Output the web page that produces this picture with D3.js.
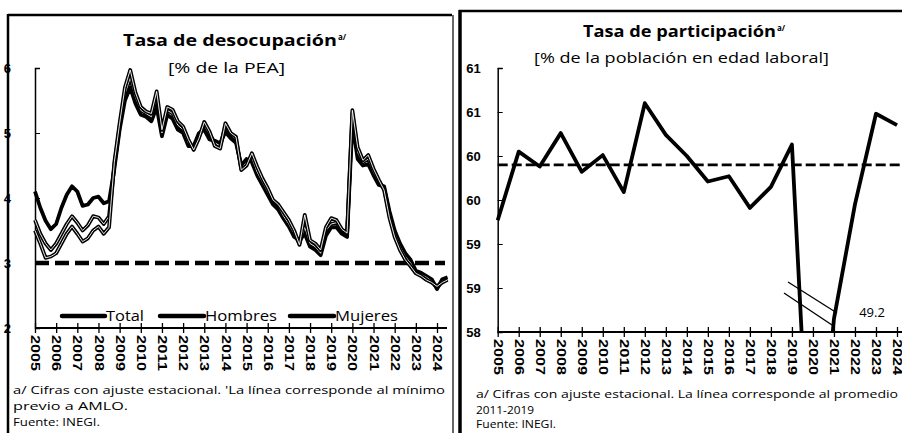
<!DOCTYPE html>
<html>
<head>
<meta charset="utf-8">
<script src="https://cdn.jsdelivr.net/npm/d3@7"></script>
<style>
  body { margin: 0; background: #fff; }
  svg { display: block; font-family: "Open Sans", "DejaVu Sans", sans-serif; }
  .axis path, .axis line { stroke: #000; }
  .axis text { fill: #000; font-weight: 700; }
</style>
</head>
<body>
<div id="chart"></div>
<script>
// ---- data ----
// quarterly unemployment rate, 2005Q1 .. 2024Q3
var startYear = 2005;
var total = [3.66,3.45,3.3,3.2,3.3,3.45,3.6,3.72,3.62,3.5,3.58,3.72,3.7,3.6,3.72,
  4.5,5.1,5.6,5.85,5.55,5.35,5.3,5.25,5.55,5.0,5.35,5.3,5.12,5.05,4.85,
  4.78,4.95,5.12,4.98,4.85,4.8,5.1,4.98,4.9,4.45,4.55,4.62,4.4,4.25,4.1,
  3.95,3.88,3.72,3.6,3.45,3.3,3.55,3.3,3.25,3.15,3.5,3.6,3.62,3.5,3.45,
  5.3,4.7,4.55,4.6,4.4,4.25,4.15,3.75,3.45,3.25,3.1,3.0,2.85,2.82,2.78,
  2.72,2.62,2.72,2.75];
var hombres = [3.5,3.3,3.08,3.1,3.15,3.3,3.45,3.56,3.45,3.33,3.38,3.5,3.56,3.45,3.55,
  4.55,5.15,5.7,5.97,5.62,5.4,5.33,5.3,5.64,5.05,5.4,5.36,5.18,5.1,4.9,
  4.74,4.92,5.17,5.02,4.8,4.76,5.15,5.0,4.94,4.43,4.5,4.69,4.48,4.3,4.15,
  3.97,3.9,3.78,3.66,3.5,3.28,3.74,3.35,3.3,3.2,3.55,3.69,3.66,3.52,3.46,
  5.35,4.78,4.58,4.66,4.45,4.28,4.12,3.7,3.4,3.2,3.05,2.95,2.84,2.8,2.74,
  2.7,2.64,2.7,2.74];
var mujeres = [4.1,3.85,3.65,3.52,3.6,3.85,4.05,4.18,4.1,3.88,3.9,4.0,4.02,3.92,3.95,
  4.45,5.05,5.5,5.7,5.45,5.28,5.25,5.18,5.4,4.95,5.28,5.22,5.05,5.0,4.8,
  4.8,5.0,5.05,4.9,4.88,4.84,5.02,4.92,4.85,4.5,4.6,4.55,4.35,4.2,4.05,
  3.9,3.82,3.68,3.56,3.4,3.35,3.45,3.25,3.2,3.12,3.42,3.55,3.55,3.45,3.4,
  5.15,4.6,4.5,4.52,4.35,4.2,4.18,3.8,3.5,3.3,3.15,3.05,2.88,2.85,2.8,
  2.75,2.6,2.75,2.78];
var minPrevio = 3.0;

// annual participation rate
var years = d3.range(2005, 2025);
var participacion = [59.27,60.05,59.88,60.26,59.82,60.01,59.59,60.6,60.24,60.0,
  59.71,59.77,59.41,59.65,60.13,55.5,58.15,59.45,60.48,60.35];
var minParticipacion = 49.2;

var yearTicks = d3.range(2005, 2025);
var leftTicks = [2, 3, 4, 5, 6];
var rightTicks = [58, 58.5, 59, 59.5, 60, 60.5, 61];

var svg = d3.select("#chart").append("svg")
  .attr("width", 902)
  .attr("height", 433);

svg.append("rect").attr("width", 902).attr("height", 433).attr("fill", "#fff");

// panel frames
svg.append("line").attr("x1", 8).attr("y1", 15).attr("x2", 452).attr("y2", 15)
  .attr("stroke", "#000").attr("stroke-width", 2.5);
svg.append("line").attr("x1", 8).attr("y1", 14).attr("x2", 8).attr("y2", 433)
  .attr("stroke", "#000").attr("stroke-width", 2.5);
svg.append("line").attr("x1", 453).attr("y1", 15).attr("x2", 453).attr("y2", 433)
  .attr("stroke", "#000").attr("stroke-width", 1.2);
svg.append("line").attr("x1", 459).attr("y1", 11).attr("x2", 902).attr("y2", 11)
  .attr("stroke", "#000").attr("stroke-width", 2.5);
svg.append("line").attr("x1", 460).attr("y1", 10).attr("x2", 460).attr("y2", 433)
  .attr("stroke", "#000").attr("stroke-width", 3.5);

// title: bold main text stretched to the scanned width, small "a/" after it
function title(x0, x1, y, main, sub, sx0, sx1, subY) {
  svg.append("text")
    .attr("x", x0).attr("y", y)
    .attr("font-size", 15.5).attr("font-weight", 700)
    .attr("textLength", x1 - x0).attr("lengthAdjust", "spacingAndGlyphs")
    .text(main);
  svg.append("text")
    .attr("x", x1 + 1).attr("y", y - 6)
    .attr("font-size", 8).attr("font-weight", 700)
    .text("a/");
  svg.append("text")
    .attr("x", sx0).attr("y", subY)
    .attr("font-size", 15)
    .attr("textLength", sx1 - sx0).attr("lengthAdjust", "spacingAndGlyphs")
    .text(sub);
}

function xAxisYears(g, x, yPos) {
  var ax = g.append("g")
    .attr("class", "axis")
    .attr("transform", "translate(0," + yPos + ")")
    .call(d3.axisBottom(x).tickValues(yearTicks).tickSize(5).tickFormat(""));
  ax.select(".domain").attr("stroke-width", 2);
  ax.selectAll(".tick line").attr("y1", -5).attr("stroke-width", 1.3);
  ax.selectAll(".tick").append("text")
    .attr("transform", "rotate(90)")
    .attr("x", 7).attr("y", 0).attr("dy", "0.35em")
    .attr("text-anchor", "start")
    .attr("font-size", 12.5)
    .attr("textLength", 36)
    .attr("lengthAdjust", "spacingAndGlyphs")
    .text(function (d) { return d; });
  return ax;
}

// ---------------- left panel ----------------
var xL = d3.scaleLinear().domain([2005, 2024]).range([35, 437]);
var yL = d3.scaleLinear().domain([2, 6]).range([328, 68]);

title(123, 337, 46, "Tasa de desocupación", "[% de la PEA]", 168, 285, 73);

var leftAxis = svg.append("g")
  .attr("class", "axis")
  .attr("transform", "translate(35,0)")
  .call(d3.axisLeft(yL).tickValues(leftTicks).tickSize(-5).tickPadding(24).tickFormat(d3.format("d")));
leftAxis.select(".domain").attr("stroke-width", 1.5);
leftAxis.selectAll("text").attr("font-size", 13).attr("font-weight", 400);

svg.append("line")
  .attr("x1", xL(2005)).attr("x2", 445)
  .attr("y1", yL(minPrevio)).attr("y2", yL(minPrevio))
  .attr("stroke", "#000").attr("stroke-width", 4.5)
  .attr("stroke-dasharray", "14,6");

var lineL = d3.line()
  .x(function (d, i) { return xL(startYear + i / 4); })
  .y(function (d) { return yL(d); });

[mujeres, total, hombres].forEach(function (s, k) {
  svg.append("path").datum(s)
    .attr("d", lineL)
    .attr("fill", "none")
    .attr("stroke", "#000")
    .attr("stroke-width", 3.8)
    .attr("stroke-linejoin", "round");
  if (k > 0) {
    svg.append("path").datum(s)
      .attr("d", lineL)
      .attr("fill", "none")
      .attr("stroke", "#fff")
      .attr("stroke-width", 0.9);
  }
});

xAxisYears(svg, xL, 328).select(".domain").attr("d", "M35,0H447");

// legend
var legendL = [
  { name: "Total", x0: 62, x1: 105, w: 38 },
  { name: "Hombres", x0: 160, x1: 204, w: 72 },
  { name: "Mujeres", x0: 290, x1: 334, w: 63 }
];
legendL.forEach(function (d) {
  svg.append("line")
    .attr("x1", d.x0).attr("x2", d.x1).attr("y1", 316).attr("y2", 316)
    .attr("stroke", "#000").attr("stroke-width", 4.5).attr("stroke-linecap", "round");
  svg.append("text")
    .attr("x", d.x1 + 1).attr("y", 321)
    .attr("font-size", 14.5)
    .attr("textLength", d.w).attr("lengthAdjust", "spacingAndGlyphs")
    .text(d.name);
});

// footnotes
var notesL = [
  { t: "a/ Cifras con ajuste estacional. 'La línea corresponde al mínimo", y: 394, w: 432 },
  { t: "previo a AMLO.", y: 410, w: 115 },
  { t: "Fuente: INEGI.", y: 426, w: 87 }
];
notesL.forEach(function (d) {
  svg.append("text").attr("x", 13).attr("y", d.y)
    .attr("font-size", 11.5)
    .attr("textLength", d.w).attr("lengthAdjust", "spacingAndGlyphs")
    .text(d.t);
});

// ---------------- right panel ----------------
var xR = d3.scaleLinear().domain([2005, 2024]).range([497.7, 897]);
var yR = d3.scaleLinear().domain([58, 61]).range([332, 68]);

title(583, 776, 37, "Tasa de participación", "[% de la población en edad laboral]", 534, 829, 63);

svg.append("clipPath").attr("id", "clipR")
  .append("rect").attr("x", 490).attr("y", 40).attr("width", 412).attr("height", 292);

var rightAxis = svg.append("g")
  .attr("class", "axis")
  .attr("transform", "translate(" + xR(2005) + ",0)")
  .call(d3.axisLeft(yR).tickValues(rightTicks).tickSize(-5).tickPadding(17).tickFormat(d3.format(".0f")));
rightAxis.select(".domain").attr("stroke-width", 1.5);
rightAxis.selectAll("text").attr("font-size", 13);

var avg = d3.mean(participacion.filter(function (v, i) { return years[i] >= 2011 && years[i] <= 2019; }));
svg.append("line")
  .attr("x1", xR(2005)).attr("x2", 902)
  .attr("y1", yR(avg)).attr("y2", yR(avg))
  .attr("stroke", "#000").attr("stroke-width", 2.8)
  .attr("stroke-dasharray", "10,4");

var lineR = d3.line()
  .x(function (d, i) { return xR(years[i]); })
  .y(function (d) { return yR(d); });

svg.append("path").datum(participacion)
  .attr("clip-path", "url(#clipR)")
  .attr("d", lineR)
  .attr("fill", "none")
  .attr("stroke", "#000")
  .attr("stroke-width", 3.8)
  .attr("stroke-linejoin", "round");

xAxisYears(svg, xR, 332).select(".domain").attr("d", "M497.7,0H902");

// axis break marks
svg.append("line").attr("x1", 788).attr("y1", 282).attr("x2", 837).attr("y2", 313)
  .attr("stroke", "#000").attr("stroke-width", 1.3);
svg.append("line").attr("x1", 784).attr("y1", 293).attr("x2", 832).attr("y2", 325)
  .attr("stroke", "#000").attr("stroke-width", 1.3);

svg.append("text")
  .attr("x", 872).attr("y", 317)
  .attr("text-anchor", "middle")
  .attr("font-size", 13)
  .text(d3.format(".1f")(minParticipacion));

var notesR = [
  { t: "a/ Cifras con ajuste estacional. La línea corresponde al promedio", y: 398, w: 422 },
  { t: "2011-2019", y: 414, w: 58 },
  { t: "Fuente: INEGI.", y: 428, w: 80 }
];
notesR.forEach(function (d) {
  svg.append("text").attr("x", 476).attr("y", d.y)
    .attr("font-size", 11.5)
    .attr("textLength", d.w).attr("lengthAdjust", "spacingAndGlyphs")
    .text(d.t);
});
</script>
</body>
</html>
